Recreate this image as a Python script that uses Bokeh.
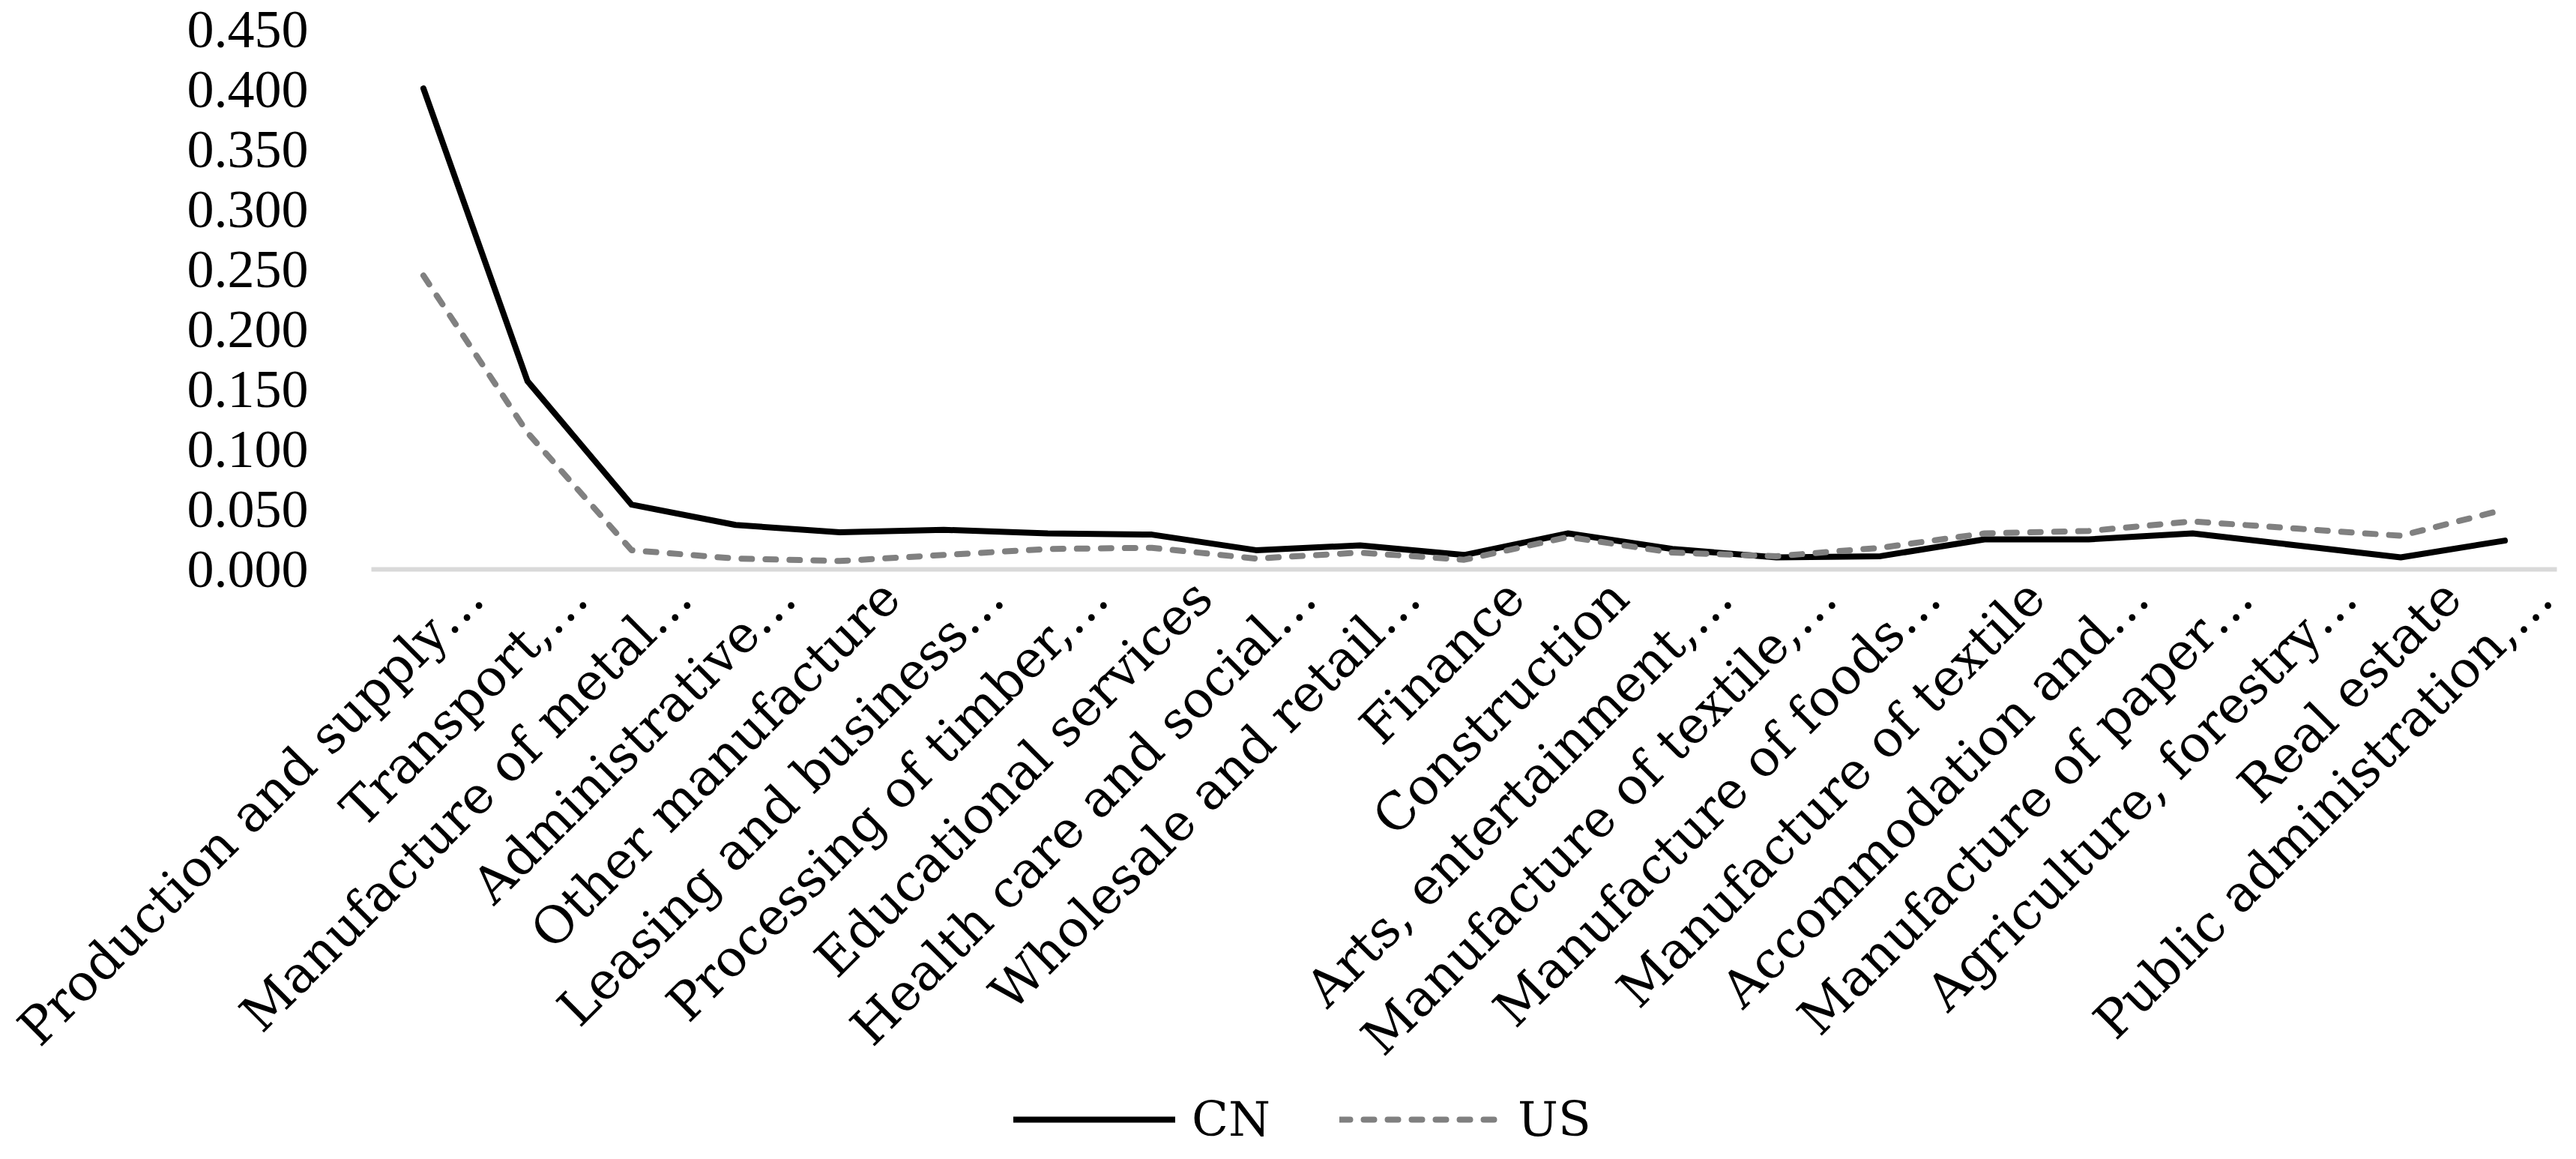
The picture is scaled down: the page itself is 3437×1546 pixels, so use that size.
import math
from bokeh.plotting import figure
from bokeh.layouts import column
from bokeh.models import (Range1d, LinearAxis, FixedTicker, NumeralTickFormatter,
                          Legend, LegendItem)
from bokeh.embed import file_html
from bokeh.resources import INLINE

categories = [
    "Production and supply…",
    "Transport,…",
    "Manufacture of metal…",
    "Administrative…",
    "Other manufacture",
    "Leasing and business…",
    "Processing of timber,…",
    "Educational services",
    "Health care and social…",
    "Wholesale and retail…",
    "Finance",
    "Construction",
    "Arts, entertainment,…",
    "Manufacture of textile,…",
    "Manufacture of foods…",
    "Manufacture of textile",
    "Accommodation and…",
    "Manufacture of paper…",
    "Agriculture, forestry…",
    "Real estate",
    "Public administration,…",
]
cn = [0.401, 0.157, 0.054, 0.037, 0.031, 0.033, 0.030, 0.029, 0.016, 0.020, 0.012,
      0.030, 0.017, 0.010, 0.011, 0.025, 0.025, 0.030, 0.020, 0.010, 0.024]
us = [0.245, 0.114, 0.016, 0.009, 0.007, 0.012, 0.017, 0.018, 0.009, 0.014, 0.008,
      0.027, 0.014, 0.011, 0.018, 0.030, 0.032, 0.040, 0.034, 0.028, 0.050]
series_names = ["CN", "US"]
y_ticks = [0.0, 0.05, 0.10, 0.15, 0.20, 0.25, 0.30, 0.35, 0.40, 0.45]

x = list(range(len(categories)))
n = len(categories)

CN_STYLE = dict(line_color="black", line_width=8, line_join="round", line_cap="round")
US_STYLE = dict(line_color="#808080", line_width=8, line_dash="14 18",
                line_cap="round", line_join="round")

p = figure(frame_width=2916, frame_height=720, output_backend="svg", toolbar_location=None,
           x_range=Range1d(-0.5, n - 0.5), y_range=Range1d(0, 0.45),
           x_axis_type=None, y_axis_type=None,
           min_border_left=495, min_border_right=10, min_border_top=39,
           min_border_bottom=0)
p.outline_line_color = None
p.background_fill_color = "white"

# category labels axis (slightly shifted so the rotated labels sit like the original)
shift = 0.49
p.extra_x_ranges = {"lab": Range1d(-0.5 - shift, n - 0.5 - shift)}
xaxis = LinearAxis(x_range_name="lab", ticker=FixedTicker(ticks=x),
                   major_label_overrides={i: c for i, c in enumerate(categories)})
xaxis.axis_line_color = "#d9d9d9"
xaxis.axis_line_width = 6
xaxis.major_tick_line_color = None
xaxis.minor_tick_line_color = None
xaxis.major_label_orientation = math.pi / 4
xaxis.major_label_standoff = 20
xaxis.major_label_text_font = "DejaVu Serif"
xaxis.major_label_text_font_size = "68px"
xaxis.major_label_text_color = "black"
p.add_layout(xaxis, "below")

yaxis = LinearAxis(ticker=FixedTicker(ticks=y_ticks),
                   formatter=NumeralTickFormatter(format="0.000"))
yaxis.axis_line_color = None
yaxis.major_tick_line_color = None
yaxis.minor_tick_line_color = None
yaxis.major_label_standoff = 78
yaxis.major_label_text_font = "Liberation Serif"
yaxis.major_label_text_font_size = "72px"
yaxis.major_label_text_color = "black"
p.add_layout(yaxis, "left")

p.line(x, cn, **CN_STYLE)
p.line(x, us, **US_STYLE)

# legend strip below the chart (same series, drawn out of view, only legend shows)
lg = figure(width=3421, height=86, output_backend="svg", toolbar_location=None,
            x_range=Range1d(1000, 1001), y_range=Range1d(0, 1),
            x_axis_type=None, y_axis_type=None, min_border=0)
lg.outline_line_color = None
lg.grid.visible = False
l_cn = lg.line(x, cn, **CN_STYLE)
l_us = lg.line(x, us, **US_STYLE)
legend = Legend(items=[LegendItem(label=series_names[0], renderers=[l_cn]),
                       LegendItem(label=series_names[1], renderers=[l_us])],
                orientation="horizontal", location=(857, 9),
                glyph_width=216, glyph_height=40, label_standoff=22, spacing=92,
                padding=0, margin=0, border_line_color=None,
                background_fill_alpha=0,
                label_text_font="DejaVu Serif", label_text_font_size="64px",
                label_text_color="black")
lg.add_layout(legend, "center")

open("out.html", "w").write(file_html(column(p, lg, spacing=0), INLINE))
